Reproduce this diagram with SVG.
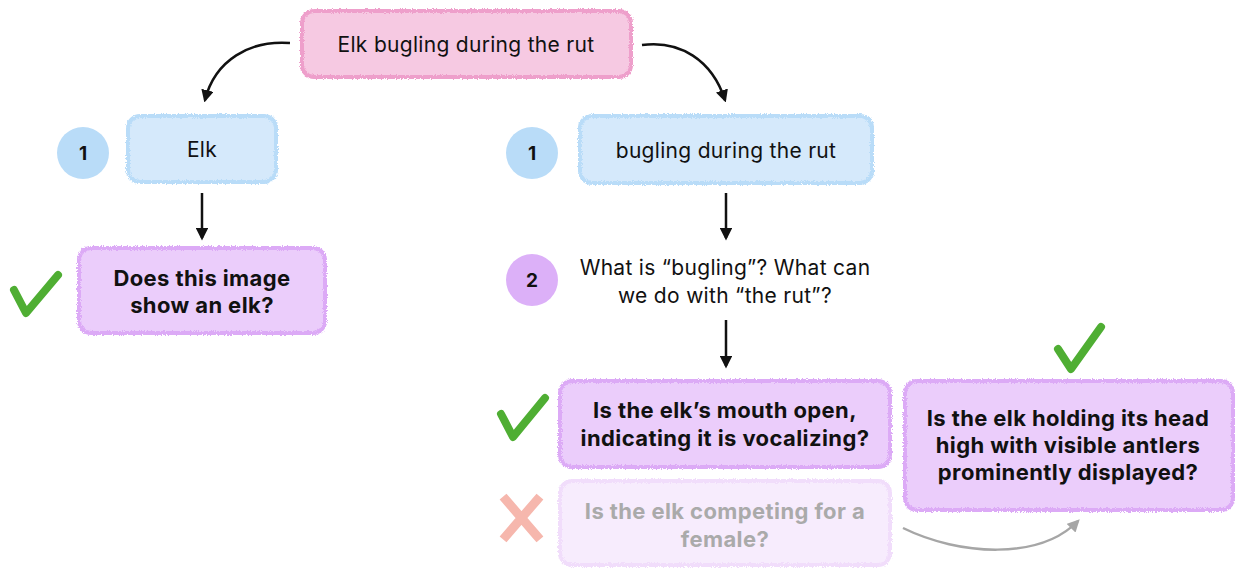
<svg xmlns="http://www.w3.org/2000/svg" width="1235" height="568" viewBox="0 0 1235 568">
<defs>
<filter id="rough" x="-5%" y="-10%" width="110%" height="120%">
<feTurbulence type="fractalNoise" baseFrequency="1.2" numOctaves="2" seed="3" result="n"/>
<feDisplacementMap in="SourceGraphic" in2="n" scale="4" xChannelSelector="R" yChannelSelector="G"/>
</filter>
<marker id="ah" viewBox="0 0 10 10" refX="8" refY="5" markerWidth="5" markerHeight="5" orient="auto-start-reverse">
<path d="M0,0 L10,5 L0,10 z" fill="#111"/>
</marker>
<marker id="ahg" viewBox="0 0 10 10" refX="8" refY="5" markerWidth="5" markerHeight="5" orient="auto-start-reverse">
<path d="M0,0 L10,5 L0,10 z" fill="#a6a6a6"/>
</marker>
<style>
text{font-family:Inter,"Liberation Sans",sans-serif;text-anchor:middle;fill:#111}
.n{font-size:21px;letter-spacing:0.3px}
.b{font-size:22px;font-weight:700;letter-spacing:0.4px}
.num{font-size:19px;font-weight:700}
.pink{fill:#f6c9e2;stroke:#ee9fcb;stroke-width:4}
.blue{fill:#d5e9fb;stroke:#b9dcf8;stroke-width:4}
.purple{fill:#ebcdfb;stroke:#dcaaf6;stroke-width:4}
.faded{fill:#f7ecfd;stroke:#f1ddfb;stroke-width:4}
.conn{fill:none;stroke:#111;stroke-width:2.5}
.check{fill:none;stroke:#4fae33;stroke-width:8;stroke-linecap:round;stroke-linejoin:round}
.cross{fill:none;stroke:#f6b7ad;stroke-width:9;stroke-linecap:square}
</style>
</defs>
<g id="connectors">
<path class="conn" d="M290,43 C250,40 215,60 205,100" marker-end="url(#ah)"/>
<path class="conn" d="M642,45 C680,40 712,60 725,100" marker-end="url(#ah)"/>
<path class="conn" d="M202,193 L202,238" marker-end="url(#ah)"/>
<path class="conn" d="M726,193 L726,238" marker-end="url(#ah)"/>
<path class="conn" d="M726,320 L726,366" marker-end="url(#ah)"/>
<path d="M903,528 C960,556 1040,560 1078,521" fill="none" stroke="#a6a6a6" stroke-width="2.5" marker-end="url(#ahg)"/>
</g>
<g id="root">
<rect class="pink" x="302" y="11" width="329" height="66" rx="12" filter="url(#rough)"/>
<text class="n" x="466" y="52">Elk bugling during the rut</text>
</g>
<g id="elk">
<circle cx="83" cy="153" r="26" fill="#b9dcf8"/>
<text class="num" x="83" y="160">1</text>
<rect class="blue" x="128" y="116" width="148" height="66" rx="12" filter="url(#rough)"/>
<text class="n" x="202" y="157">Elk</text>
</g>
<g id="q-elk">
<rect class="purple" x="79" y="248" width="246" height="85" rx="12" filter="url(#rough)"/>
<text class="b" x="202" y="286">Does this image</text>
<text class="b" x="202" y="313">show an elk?</text>
<path class="check" d="M14,290 L26,313 L58,275"/>
</g>
<g id="bugling">
<circle cx="532" cy="153" r="26" fill="#b9dcf8"/>
<text class="num" x="532" y="160">1</text>
<rect class="blue" x="580" y="116" width="292" height="67" rx="12" filter="url(#rough)"/>
<text class="n" x="726" y="158">bugling during the rut</text>
</g>
<g id="meaning">
<circle cx="532" cy="280" r="26" fill="#dcb0f8"/>
<text class="num" x="532" y="287">2</text>
<text class="n" x="725" y="275">What is “bugling”? What can</text>
<text class="n" x="725" y="303">we do with “the rut”?</text>
</g>
<g id="q-mouth">
<rect class="purple" x="560" y="381" width="330" height="86" rx="12" filter="url(#rough)"/>
<text class="b" x="725" y="418">Is the elk’s mouth open,</text>
<text class="b" x="725" y="446">indicating it is vocalizing?</text>
<path class="check" d="M501,414 L513,437 L545,398"/>
</g>
<g id="q-female">
<rect class="faded" x="560" y="481" width="330" height="84" rx="12" filter="url(#rough)"/>
<text class="b" x="725" y="519" style="fill:#aaaaaa">Is the elk competing for a</text>
<text class="b" x="725" y="547" style="fill:#aaaaaa">female?</text>
<path class="cross" d="M506,500 L537,536 M537,500 L506,536"/>
</g>
<g id="q-head">
<rect class="purple" x="905" y="381" width="328" height="129" rx="12" filter="url(#rough)"/>
<text class="b" x="1068" y="426">Is the elk holding its head</text>
<text class="b" x="1068" y="453">high with visible antlers</text>
<text class="b" x="1068" y="480">prominently displayed?</text>
<path class="check" d="M1058,349 L1071,369 L1101,327"/>
</g>
</svg>
